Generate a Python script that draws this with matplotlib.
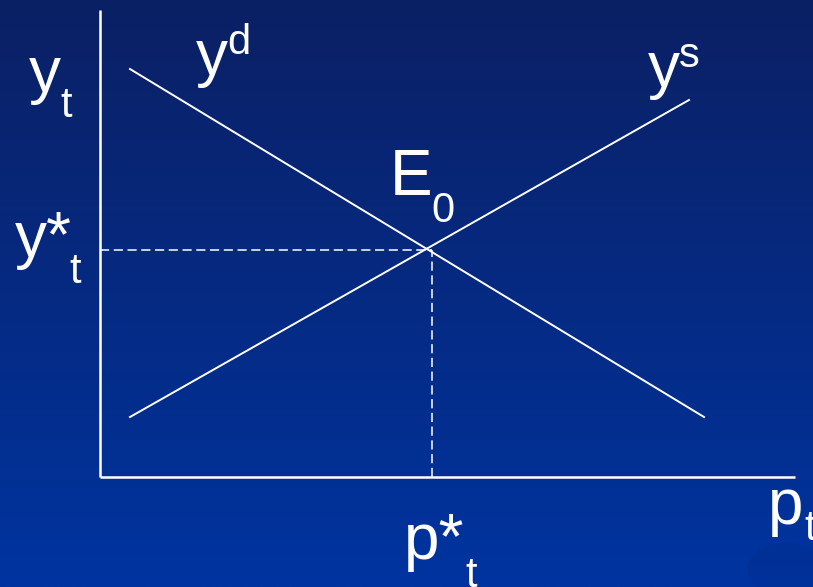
import numpy as np
import matplotlib
matplotlib.use("Agg")
import matplotlib.pyplot as plt
from matplotlib.patches import Circle

plt.rcParams['font.family'] = ['Liberation Sans', 'DejaVu Sans']

# Curve end points (price p_t, output y_t)
demand_p = [30, 604]
demand_y = [408, 60]
supply_p = [30, 589]
supply_y = [60, 377]
# equilibrium
p_star = 332
y_star = 227
# axis extents
p_max = 695
y_max = 467

BIG = 46
SMALL = 30

fig = plt.figure(figsize=(8.13, 5.87), dpi=100)

# background gradient
bg = fig.add_axes([0, 0, 1, 1])
top = np.array([11, 32, 100]) / 255
bottom = np.array([0, 52, 160]) / 255
t = np.linspace(0, 1, 256)[:, None]
grad = (top[None, :] * (1 - t) + bottom[None, :] * t)[:, None, :]
bg.imshow(grad, aspect='auto', extent=[0, 1, 0, 1], origin='upper')
# faint slide decoration in the corner
bg.add_patch(Circle((0.965, 0.03), 0.045, transform=bg.transAxes,
                    facecolor=(0, 0.14, 0.5), alpha=0.18, lw=0))
bg.set_xlim(0, 1)
bg.set_ylim(0, 1)
bg.axis('off')

ax = fig.add_axes([0, 0, 1, 1])
ax.patch.set_alpha(0)
ax.set_xlim(-100, 713)
ax.set_ylim(-110, 477)
ax.axis('off')

# axes
ax.plot([0, 0], [0, y_max], color='white', lw=1.8, solid_capstyle='butt')
ax.plot([0, p_max], [0, 0], color='white', lw=1.8, solid_capstyle='butt')

# curves
ax.plot(demand_p, demand_y, color='white', lw=1.4)
ax.plot(supply_p, supply_y, color='white', lw=1.4)

# dashed guides
ax.plot([0, p_star], [y_star, y_star], color='white', lw=1.1, ls=(0, (6, 3)))
ax.plot([p_star, p_star], [0, y_star], color='white', lw=1.1, ls=(0, (6, 3)))

def label(x, y, s, size):
    ax.text(x, y, s, color='white', fontsize=size, ha='left', va='baseline')

label(-71, 385, 'y', BIG)
label(-40, 360, 't', SMALL)
label(-85, 220, 'y*', BIG)
label(-31, 194, 't', SMALL)
label(96, 402, 'y', BIG)
label(127, 423, 'd', SMALL)
label(548, 390, 'y', BIG)
label(579, 410, 's', SMALL)
label(290, 282, 'E', BIG)
label(331, 255, '0', SMALL)
label(304, -82, 'p*', BIG)
label(365, -110, 't', SMALL)
label(668, -47, 'p', BIG)
label(704, -63, 't', SMALL)

fig.savefig('out.png', dpi=100)
